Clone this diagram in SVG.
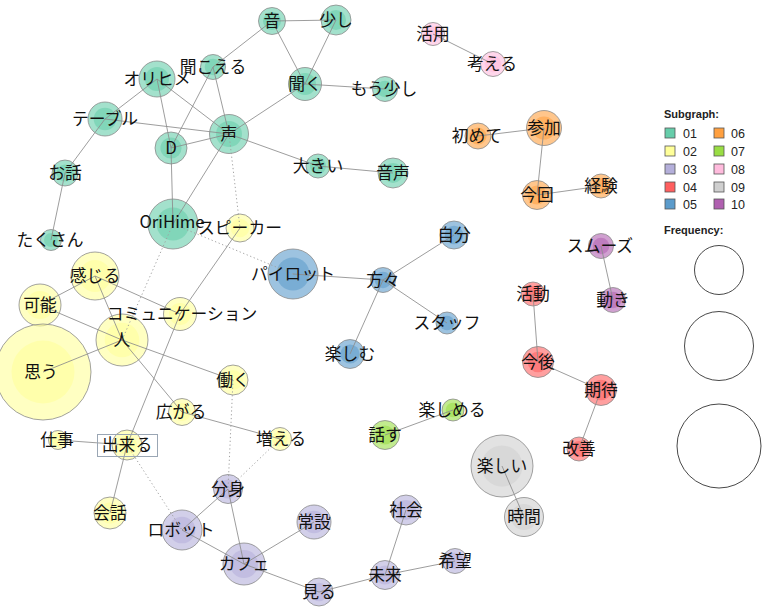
<svg xmlns="http://www.w3.org/2000/svg" width="763" height="608" viewBox="0 0 763 608">
<style>
.o{stroke:#8a8a8a;stroke-width:0.8;fill-opacity:0.6}
.i{stroke:none;fill-opacity:0.55}
.g01{fill:#66CDAA}.g02{fill:#FFFF99}.g03{fill:#B4AFDA}.g04{fill:#FF5F5F}.g05{fill:#5B9BCB}
.g06{fill:#FFA040}.g07{fill:#99DD44}.g08{fill:#FFBBDD}.g09{fill:#CFCFCF}.g10{fill:#B060B0}
.e{stroke:#8c8c8c;stroke-width:1;fill:none;stroke-opacity:0.85}
.d{stroke:#a0a0a0;stroke-width:1;fill:none;stroke-dasharray:1.2,2.6}
text.l{font-family:"Noto Sans CJK JP","Noto Sans",sans-serif;font-size:16.8px;fill:#111;text-anchor:middle}
.lg{font-family:"Liberation Sans",Arial,sans-serif;fill:#222}
.lgs{stroke:#555;stroke-width:0.8}
</style>
<rect width="763" height="608" fill="#fff"/>
<!-- node circles -->
<g id="nodes">
<g id="n-oto"><circle class="o g01" cx="272" cy="21" r="13.5"/><circle class="i g01" cx="272" cy="21" r="9"/></g>
<g id="n-sukoshi"><circle class="o g01" cx="336" cy="20" r="15"/><circle class="i g01" cx="336" cy="20" r="10"/></g>
<g id="n-kiku"><circle class="o g01" cx="305" cy="84" r="16.5"/><circle class="i g01" cx="305" cy="84" r="11"/></g>
<g id="n-mousukoshi"><circle class="o g01" cx="385" cy="89" r="12.5"/><circle class="i g01" cx="385" cy="89" r="8.3"/></g>
<g id="n-kikoeru"><circle class="o g01" cx="213" cy="67" r="12.5"/><circle class="i g01" cx="213" cy="67" r="8.3"/></g>
<g id="n-orihime-kana"><circle class="o g01" cx="157" cy="79" r="18"/><circle class="i g01" cx="157" cy="79" r="12"/></g>
<g id="n-table"><circle class="o g01" cx="105" cy="119" r="17"/><circle class="i g01" cx="105" cy="119" r="11.3"/></g>
<g id="n-D"><circle class="o g01" cx="171" cy="148" r="16"/><circle class="i g01" cx="171" cy="148" r="10.6"/></g>
<g id="n-koe"><circle class="o g01" cx="229" cy="134" r="19.5"/><circle class="i g01" cx="229" cy="134" r="13"/></g>
<g id="n-ookii"><circle class="o g01" cx="318" cy="166" r="12"/><circle class="i g01" cx="318" cy="166" r="8"/></g>
<g id="n-onsei"><circle class="o g01" cx="393" cy="173" r="15"/><circle class="i g01" cx="393" cy="173" r="10"/></g>
<g id="n-ohanashi"><circle class="o g01" cx="65" cy="173" r="13"/><circle class="i g01" cx="65" cy="173" r="8.6"/></g>
<g id="n-takusan"><circle class="o g01" cx="51" cy="240" r="10.5"/><circle class="i g01" cx="51" cy="240" r="7"/></g>
<g id="n-OriHime"><circle class="o g01" cx="173" cy="224" r="25"/><circle class="i g01" cx="173" cy="224" r="16.5"/></g>

<g id="n-speaker"><circle class="o g02" cx="240" cy="228" r="14"/><circle class="i g02" cx="240" cy="228" r="9.3"/></g>
<g id="n-kanjiru"><circle class="o g02" cx="95" cy="276" r="24"/><circle class="i g02" cx="95" cy="276" r="16"/></g>
<g id="n-kanou"><circle class="o g02" cx="40" cy="305" r="21"/><circle class="i g02" cx="40" cy="305" r="14"/></g>
<g id="n-comm"><circle class="o g02" cx="180" cy="314" r="16.5"/><circle class="i g02" cx="180" cy="314" r="11"/></g>
<g id="n-hito"><circle class="o g02" cx="122" cy="340" r="26"/><circle class="i g02" cx="122" cy="340" r="17.3"/></g>
<g id="n-omou"><circle class="o g02" cx="43" cy="372" r="48"/><circle class="i g02" cx="43" cy="372" r="31.5"/></g>
<g id="n-hataraku"><circle class="o g02" cx="233" cy="380" r="15"/><circle class="i g02" cx="233" cy="380" r="10"/></g>
<g id="n-hirogaru"><circle class="o g02" cx="182" cy="412" r="13.5"/><circle class="i g02" cx="182" cy="412" r="9"/></g>
<g id="n-fueru"><circle class="o g02" cx="280" cy="439" r="11.5"/><circle class="i g02" cx="280" cy="439" r="7.6"/></g>
<g id="n-shigoto"><circle class="o g02" cx="58" cy="440" r="9.5"/><circle class="i g02" cx="58" cy="440" r="6.3"/></g>
<g id="n-dekiru"><circle class="o g02" cx="127" cy="445" r="15"/><circle class="i g02" cx="127" cy="445" r="10"/></g>
<g id="n-kaiwa"><circle class="o g02" cx="110" cy="513" r="16"/><circle class="i g02" cx="110" cy="513" r="10.6"/></g>

<g id="n-bunshin"><circle class="o g03" cx="228" cy="489" r="14.5"/><circle class="i g03" cx="228" cy="489" r="9.6"/></g>
<g id="n-robot"><circle class="o g03" cx="182" cy="530" r="20"/><circle class="i g03" cx="182" cy="530" r="13.3"/></g>
<g id="n-jousetsu"><circle class="o g03" cx="314" cy="522" r="17"/><circle class="i g03" cx="314" cy="522" r="11.3"/></g>
<g id="n-cafe"><circle class="o g03" cx="244" cy="564" r="21"/><circle class="i g03" cx="244" cy="564" r="14"/></g>
<g id="n-miru"><circle class="o g03" cx="319" cy="592" r="14"/><circle class="i g03" cx="319" cy="592" r="9.3"/></g>
<g id="n-shakai"><circle class="o g03" cx="406" cy="510" r="15"/><circle class="i g03" cx="406" cy="510" r="10"/></g>
<g id="n-mirai"><circle class="o g03" cx="385" cy="575" r="14.5"/><circle class="i g03" cx="385" cy="575" r="9.6"/></g>
<g id="n-kibou"><circle class="o g03" cx="455" cy="561" r="12.5"/><circle class="i g03" cx="455" cy="561" r="8.3"/></g>

<g id="n-katsudou"><circle class="o g04" cx="533" cy="294" r="12"/><circle class="i g04" cx="533" cy="294" r="8"/></g>
<g id="n-kongo"><circle class="o g04" cx="538" cy="362" r="15.5"/><circle class="i g04" cx="538" cy="362" r="10.3"/></g>
<g id="n-kitai"><circle class="o g04" cx="601" cy="390" r="15.5"/><circle class="i g04" cx="601" cy="390" r="10.3"/></g>
<g id="n-kaizen"><circle class="o g04" cx="579" cy="449" r="12"/><circle class="i g04" cx="579" cy="449" r="8"/></g>

<g id="n-pilot"><circle class="o g05" cx="293" cy="274" r="25"/><circle class="i g05" cx="293" cy="274" r="16.5"/></g>
<g id="n-katagata"><circle class="o g05" cx="383" cy="280" r="12.5"/><circle class="i g05" cx="383" cy="280" r="8.3"/></g>
<g id="n-jibun"><circle class="o g05" cx="454" cy="235" r="14"/><circle class="i g05" cx="454" cy="235" r="9.3"/></g>
<g id="n-staff"><circle class="o g05" cx="447" cy="323" r="11"/><circle class="i g05" cx="447" cy="323" r="7.3"/></g>
<g id="n-tanoshimu"><circle class="o g05" cx="350" cy="354" r="14.5"/><circle class="i g05" cx="350" cy="354" r="9.6"/></g>

<g id="n-sanka"><circle class="o g06" cx="544" cy="128" r="17.5"/><circle class="i g06" cx="544" cy="128" r="11.6"/></g>
<g id="n-hajimete"><circle class="o g06" cx="478" cy="136" r="13"/><circle class="i g06" cx="478" cy="136" r="8.6"/></g>
<g id="n-konkai"><circle class="o g06" cx="537" cy="195" r="14.5"/><circle class="i g06" cx="537" cy="195" r="9.6"/></g>
<g id="n-keiken"><circle class="o g06" cx="601" cy="186" r="12"/><circle class="i g06" cx="601" cy="186" r="8"/></g>

<g id="n-hanasu"><circle class="o g07" cx="385" cy="435" r="14.5"/><circle class="i g07" cx="385" cy="435" r="9.6"/></g>
<g id="n-tanoshimeru"><circle class="o g07" cx="453" cy="410" r="11"/><circle class="i g07" cx="453" cy="410" r="7.3"/></g>

<g id="n-katsuyou"><circle class="o g08" cx="433" cy="34" r="11.5"/><circle class="i g08" cx="433" cy="34" r="7.6"/></g>
<g id="n-kangaeru"><circle class="o g08" cx="493" cy="64" r="12.5"/><circle class="i g08" cx="493" cy="64" r="8.3"/></g>

<g id="n-tanoshii"><circle class="o g09" cx="502" cy="466" r="31"/><circle class="i g09" cx="502" cy="466" r="20.5"/></g>
<g id="n-jikan"><circle class="o g09" cx="524" cy="517" r="19.5"/><circle class="i g09" cx="524" cy="517" r="13"/></g>

<g id="n-smooth"><circle class="o g10" cx="601" cy="246" r="12.5"/><circle class="i g10" cx="601" cy="246" r="8.3"/></g>
<g id="n-ugoki"><circle class="o g10" cx="613" cy="300" r="12.5"/><circle class="i g10" cx="613" cy="300" r="8.3"/></g>
</g>
<!-- connectors -->
<g id="edges">
<line class="e" x1="272" y1="21" x2="336" y2="20"/>
<line class="e" x1="272" y1="21" x2="305" y2="84"/>
<line class="e" x1="336" y1="20" x2="305" y2="84"/>
<line class="e" x1="272" y1="21" x2="213" y2="67"/>
<line class="e" x1="305" y1="84" x2="385" y2="89"/>
<line class="e" x1="305" y1="84" x2="229" y2="134"/>
<line class="e" x1="213" y1="67" x2="229" y2="134"/>
<line class="e" x1="213" y1="67" x2="171" y2="148"/>
<line class="e" x1="157" y1="79" x2="229" y2="134"/>
<line class="e" x1="157" y1="79" x2="171" y2="148"/>
<line class="e" x1="157" y1="79" x2="105" y2="119"/>
<line class="e" x1="105" y1="119" x2="229" y2="134"/>
<line class="e" x1="105" y1="119" x2="65" y2="173"/>
<line class="e" x1="171" y1="148" x2="229" y2="134"/>
<line class="e" x1="171" y1="148" x2="173" y2="224"/>
<line class="e" x1="229" y1="134" x2="173" y2="224"/>
<line class="e" x1="229" y1="134" x2="318" y2="166"/>
<line class="e" x1="318" y1="166" x2="393" y2="173"/>
<line class="e" x1="65" y1="173" x2="51" y2="240"/>
<line class="d" x1="229" y1="134" x2="240" y2="228"/>
<line class="d" x1="173" y1="224" x2="293" y2="274"/>
<line class="d" x1="173" y1="224" x2="122" y2="340"/>
<line class="e" x1="240" y1="228" x2="180" y2="314"/>
<line class="e" x1="180" y1="314" x2="127" y2="445"/>
<line class="e" x1="95" y1="276" x2="40" y2="305"/>
<line class="e" x1="95" y1="276" x2="180" y2="314"/>
<line class="e" x1="95" y1="276" x2="122" y2="340"/>
<line class="e" x1="40" y1="305" x2="122" y2="340"/>
<line class="e" x1="43" y1="372" x2="122" y2="340"/>
<line class="e" x1="122" y1="340" x2="233" y2="380"/>
<line class="e" x1="122" y1="340" x2="182" y2="412"/>
<line class="e" x1="182" y1="412" x2="280" y2="439"/>
<line class="e" x1="58" y1="440" x2="127" y2="445"/>
<line class="e" x1="127" y1="445" x2="110" y2="513"/>
<line class="d" x1="127" y1="445" x2="182" y2="530"/>
<line class="d" x1="233" y1="380" x2="228" y2="489"/>
<line class="d" x1="280" y1="439" x2="228" y2="489"/>
<line class="e" x1="228" y1="489" x2="182" y2="530"/>
<line class="e" x1="228" y1="489" x2="244" y2="564"/>
<line class="e" x1="182" y1="530" x2="244" y2="564"/>
<line class="e" x1="244" y1="564" x2="314" y2="522"/>
<line class="e" x1="244" y1="564" x2="319" y2="592"/>
<line class="e" x1="319" y1="592" x2="385" y2="575"/>
<line class="e" x1="385" y1="575" x2="406" y2="510"/>
<line class="e" x1="385" y1="575" x2="455" y2="561"/>
<line class="e" x1="293" y1="274" x2="383" y2="280"/>
<line class="e" x1="383" y1="280" x2="454" y2="235"/>
<line class="e" x1="383" y1="280" x2="447" y2="323"/>
<line class="e" x1="383" y1="280" x2="350" y2="354"/>
<line class="e" x1="533" y1="294" x2="538" y2="362"/>
<line class="e" x1="538" y1="362" x2="601" y2="390"/>
<line class="e" x1="601" y1="390" x2="579" y2="449"/>
<line class="e" x1="544" y1="128" x2="478" y2="136"/>
<line class="e" x1="544" y1="128" x2="537" y2="195"/>
<line class="e" x1="537" y1="195" x2="601" y2="186"/>
<line class="e" x1="385" y1="435" x2="453" y2="410"/>
<line class="e" x1="433" y1="34" x2="493" y2="64"/>
<line class="e" x1="502" y1="466" x2="524" y2="517"/>
<line class="e" x1="601" y1="246" x2="613" y2="300"/>
</g>
<!-- labels -->
<g id="labels">
<text class="l" x="272" y="27">音</text>
<text class="l" x="336" y="26">少し</text>
<text class="l" x="305" y="90">聞く</text>
<text class="l" x="384" y="95">もう少し</text>
<text class="l" x="213" y="73">聞こえる</text>
<text class="l" x="157" y="85">オリヒメ</text>
<text class="l" x="105" y="125">テーブル</text>
<text class="l" x="171" y="154">D</text>
<text class="l" x="229" y="140">声</text>
<text class="l" x="318" y="172">大きい</text>
<text class="l" x="393" y="179">音声</text>
<text class="l" x="65" y="179">お話</text>
<text class="l" x="50" y="246">たくさん</text>
<text class="l" x="172" y="228">OriHime</text>
<text class="l" x="240" y="234">スピーカー</text>
<text class="l" x="95" y="282">感じる</text>
<text class="l" x="40" y="311">可能</text>
<text class="l" x="182" y="320">コミュニケーション</text>
<text class="l" x="122" y="346">人</text>
<text class="l" x="41" y="378">思う</text>
<text class="l" x="233" y="386">働く</text>
<text class="l" x="181" y="418">広がる</text>
<text class="l" x="281" y="445">増える</text>
<text class="l" x="57" y="446">仕事</text>
<rect x="97.5" y="434.5" width="60" height="22" fill="none" stroke="#9aa6b4" stroke-width="1"/>
<text class="l" x="127" y="451">出来る</text>
<text class="l" x="110" y="519">会話</text>
<text class="l" x="228" y="495">分身</text>
<text class="l" x="181" y="536">ロボット</text>
<text class="l" x="314" y="528">常設</text>
<text class="l" x="244" y="570">カフェ</text>
<text class="l" x="319" y="598">見る</text>
<text class="l" x="406" y="516">社会</text>
<text class="l" x="385" y="581">未来</text>
<text class="l" x="455" y="567">希望</text>
<text class="l" x="533" y="300">活動</text>
<text class="l" x="538" y="368">今後</text>
<text class="l" x="601" y="396">期待</text>
<text class="l" x="579" y="455">改善</text>
<text class="l" x="293" y="280">パイロット</text>
<text class="l" x="383" y="286">方々</text>
<text class="l" x="454" y="241">自分</text>
<text class="l" x="447" y="329">スタッフ</text>
<text class="l" x="350" y="360">楽しむ</text>
<text class="l" x="544" y="134">参加</text>
<text class="l" x="477" y="142">初めて</text>
<text class="l" x="537" y="201">今回</text>
<text class="l" x="601" y="192">経験</text>
<text class="l" x="385" y="441">話す</text>
<text class="l" x="452" y="416">楽しめる</text>
<text class="l" x="433" y="40">活用</text>
<text class="l" x="492" y="70">考える</text>
<text class="l" x="502" y="472">楽しい</text>
<text class="l" x="524" y="523">時間</text>
<text class="l" x="600" y="252">スムーズ</text>
<text class="l" x="613" y="306">動き</text>
</g>
<!-- legend -->
<g id="legend">
<text class="lg" x="664" y="118" font-size="11" font-weight="bold">Subgraph:</text>
<rect class="lgs g01" x="665" y="128" width="10" height="10"/><text class="lg" x="683" y="137.5" font-size="12.5">01</text>
<rect class="lgs g02" x="665" y="146" width="10" height="10"/><text class="lg" x="683" y="155.5" font-size="12.5">02</text>
<rect class="lgs g03" x="665" y="164" width="10" height="10"/><text class="lg" x="683" y="173.5" font-size="12.5">03</text>
<rect class="lgs g04" x="665" y="182" width="10" height="10"/><text class="lg" x="683" y="191.5" font-size="12.5">04</text>
<rect class="lgs g05" x="665" y="199" width="10" height="10"/><text class="lg" x="683" y="208.5" font-size="12.5">05</text>
<rect class="lgs g06" x="714" y="128" width="10" height="10"/><text class="lg" x="731" y="137.5" font-size="12.5">06</text>
<rect class="lgs g07" x="714" y="146" width="10" height="10"/><text class="lg" x="731" y="155.5" font-size="12.5">07</text>
<rect class="lgs g08" x="714" y="164" width="10" height="10"/><text class="lg" x="731" y="173.5" font-size="12.5">08</text>
<rect class="lgs g09" x="714" y="182" width="10" height="10"/><text class="lg" x="731" y="191.5" font-size="12.5">09</text>
<rect class="lgs g10" x="714" y="199" width="10" height="10"/><text class="lg" x="731" y="208.5" font-size="12.5">10</text>
<text class="lg" x="664" y="234" font-size="11" font-weight="bold">Frequency:</text>
<circle cx="719" cy="270" r="24.5" fill="none" stroke="#333" stroke-width="0.9"/>
<circle cx="719" cy="346" r="34.5" fill="none" stroke="#333" stroke-width="0.9"/>
<circle cx="719" cy="446" r="42" fill="none" stroke="#333" stroke-width="0.9"/>
</g>
</svg>
